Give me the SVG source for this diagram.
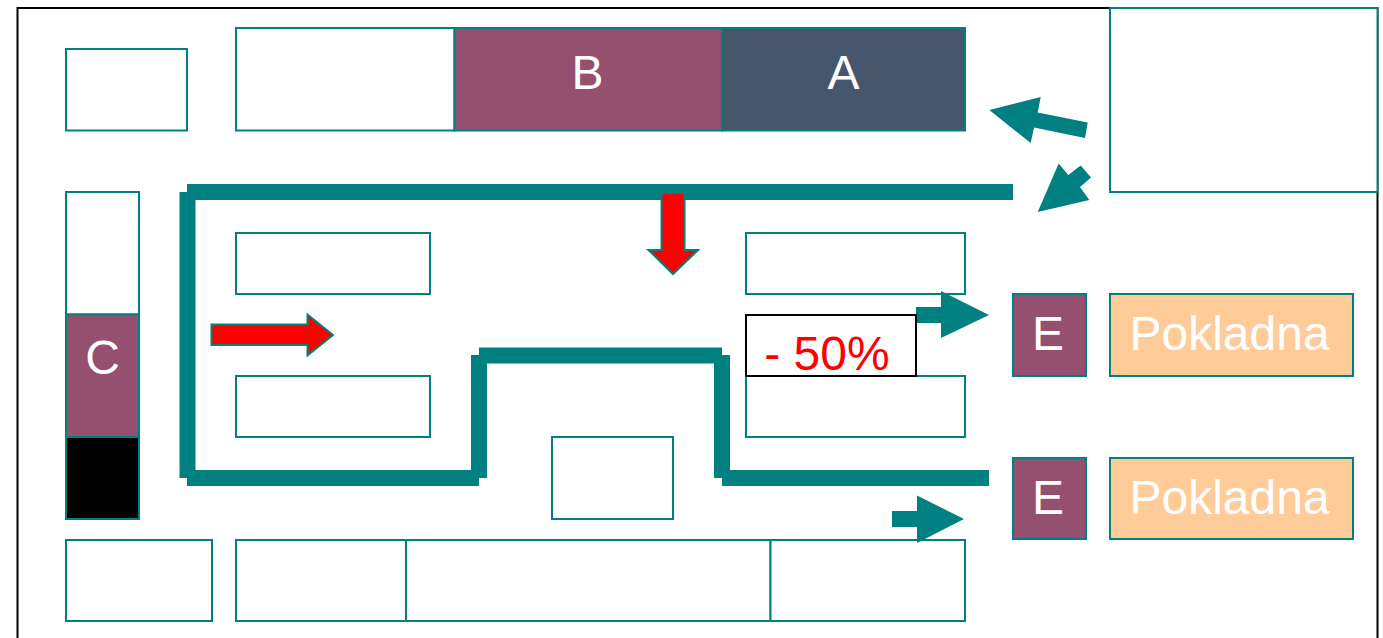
<svg xmlns="http://www.w3.org/2000/svg" width="1383" height="638" viewBox="0 0 1383 638">
<style>
.b{fill:#fff;stroke:#008080;stroke-width:2}
.p{fill:#955070;stroke:#008080;stroke-width:2}
.o{fill:#FFCC99;stroke:#008080;stroke-width:2}
.w{fill:#008080}
.r{fill:#f00;stroke:#008080;stroke-width:2}
text{font-family:"Liberation Sans",Arial,sans-serif;font-size:48px;fill:#fff;text-anchor:middle}
</style>
<rect width="1383" height="638" fill="#fff"/>
<path id="frame" d="M17.500 638V8H1377.500V638" fill="none" stroke="#000" stroke-width="2"/>
<g id="n-topright"><rect class="b" x="1110" y="8" width="267.500" height="184"/></g>
<g id="n-tl"><rect class="b" x="66" y="49" width="121" height="81.500"/></g>
<g id="n-top-blank"><rect class="b" x="236" y="28" width="218.500" height="102.500"/></g>
<g id="n-b"><rect class="p" x="454.500" y="28" width="267.500" height="102.500"/><text x="587.500" y="89">B</text></g>
<g id="n-a"><rect x="722" y="28" width="243" height="102.500" fill="#46566D" stroke="#008080" stroke-width="2"/><text x="843.500" y="89">A</text></g>
<g id="n-col-top"><rect class="b" x="66" y="192" width="73" height="122.500"/></g>
<g id="n-c"><rect class="p" x="66" y="314.500" width="73" height="122.500"/><text x="102.500" y="374">C</text></g>
<g id="n-black"><rect x="66" y="437" width="73" height="82" fill="#000" stroke="#008080" stroke-width="2"/></g>
<g id="n-s1"><rect class="b" x="236" y="233" width="194" height="61"/></g>
<g id="n-s2"><rect class="b" x="236" y="376" width="194" height="61"/></g>
<g id="n-s3"><rect class="b" x="746" y="233" width="219" height="61"/></g>
<g id="n-s4"><rect class="b" x="746" y="376" width="219" height="61"/></g>
<g id="n-s5"><rect class="b" x="552" y="437" width="121" height="82"/></g>
<g id="n-b1"><rect class="b" x="66" y="540" width="146" height="81"/></g>
<g id="n-b2"><rect class="b" x="236" y="540" width="170" height="81"/></g>
<g id="n-b3"><rect class="b" x="406" y="540" width="364.500" height="81"/></g>
<g id="n-b4"><rect class="b" x="770.500" y="540" width="194.500" height="81"/></g>
<g id="n-e1"><rect class="p" x="1013" y="294" width="73" height="82"/><text x="1048" y="350">E</text></g>
<g id="n-e2"><rect class="p" x="1013" y="458" width="73" height="81"/><text x="1048" y="514">E</text></g>
<g id="n-k1"><rect class="o" x="1110" y="294" width="243" height="82"/><text x="1229.500" y="350">Pokladna</text></g>
<g id="n-k2"><rect class="o" x="1110" y="458" width="243" height="81"/><text x="1229.500" y="514">Pokladna</text></g>
<g id="connectors">
<rect class="w" x="187" y="184" width="826" height="16"/>
<rect class="w" x="179.500" y="192" width="16" height="286"/>
<rect class="w" x="187" y="470" width="292" height="16"/>
<rect class="w" x="471" y="355" width="16" height="123"/>
<rect class="w" x="479" y="347.500" width="243" height="16"/>
<rect class="w" x="714" y="355" width="16" height="123"/>
<rect class="w" x="722" y="470" width="267" height="16"/>
<polygon class="w" points="989.300,110 1040.700,97 1037.700,112.500 1087.700,122.500 1085,138 1034,127.500 1030.700,143"/>
<polygon class="w" points="1037.700,212 1058.700,163.500 1068.300,175 1080.700,165.500 1091,177.500 1080,187 1089.300,200"/>
<polygon class="w" points="916,307 941,307 941,291 989,315 941,338 941,323 916,323"/>
<polygon class="w" points="892,511 917,511 917,495.500 964,519 917,543 917,527 892,527"/>
<polygon class="r" points="661.500,193 684.500,193 684.500,250 698,250 673,274 648.500,250 661.500,250"/>
<polygon class="r" points="211.500,324.500 307.500,324.500 307.500,314.500 333,335 307.500,355.500 307.500,345 211.500,345"/>
</g>
<g id="n-50"><rect x="746" y="315" width="170" height="61" fill="#fff" stroke="#000" stroke-width="2"/><text x="827" y="370" style="fill:#f00">- 50%</text></g>
</svg>
